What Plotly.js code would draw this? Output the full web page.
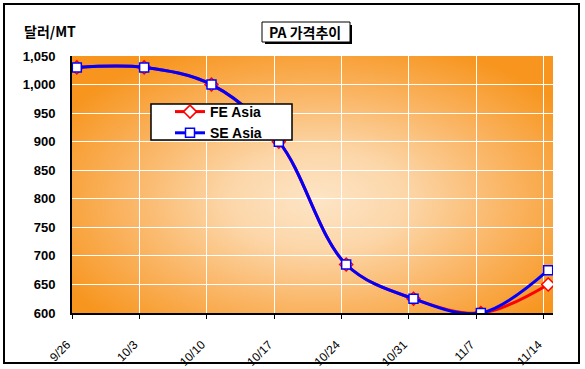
<!DOCTYPE html>
<html>
<head>
<meta charset="utf-8">
<script src="https://cdn.plot.ly/plotly-3.0.1.min.js"></script>
<style>
html,body{margin:0;padding:0;background:#fff;}
#chart{width:585px;height:369px;}
</style>
</head>
<body>
<div id="chart"></div>
<script>
// ---- data ----
const dates = ['2008-09-26','2008-10-03','2008-10-10','2008-10-17','2008-10-24','2008-10-31','2008-11-07','2008-11-14'];
const tickLabels = ['9/26','10/3','10/10','10/17','10/24','10/31','11/7','11/14'];
const feAsia = [1030, 1030, 1000, 900, 685, 625, 600, 650];
const seAsia = [1030, 1030, 1000, 900, 685, 625, 600, 675];
const yTicks = [600,650,700,750,800,850,900,950,1000,1050];
const yTickText = ['600','650','700','750','800','850','900','950','1,000','1,050'];

// ---- layout geometry ----
const W = 585, H = 369;
const M = {l:72, r:32, t:56, b:56};
const PW = W - M.l - M.r, PH = H - M.t - M.b;
const pxX = x => (x - M.l) / PW;
const pxY = y => (H - M.b - y) / PH;

// points sit in the middle of each day slot
const xPts = dates.map(d => d + ' 12:00');

// radial gradient background for plot area
const cv = document.createElement('canvas');
cv.width = PW; cv.height = PH;
const ctx = cv.getContext('2d');
ctx.fillStyle = '#F7951E';
ctx.fillRect(0,0,PW,PH);
ctx.save();
ctx.translate(PW*0.51, PH*0.56);
ctx.scale(1, PH/PW*1.05);
const R = PW*0.62;
const g = ctx.createRadialGradient(0,0,0,0,0,R);
g.addColorStop(0, '#FDE5C6');
g.addColorStop(0.3, '#FCD6A8');
g.addColorStop(0.65, '#FAB462');
g.addColorStop(1, '#F7951E');
ctx.fillStyle = g;
ctx.fillRect(-PW*2, -PW*4, PW*4, PW*8);
ctx.restore();
const bg = cv.toDataURL('image/png');

const font = 'Liberation Sans, Arial, sans-serif';
const kfont = 'Noto Sans CJK KR, Liberation Sans, sans-serif';

const traces = [
  {x: xPts, y: feAsia, name: 'FE Asia', type: 'scatter', mode: 'lines+markers',
   line: {color: '#FF0000', width: 3, shape: 'spline', smoothing: 1},
   marker: {symbol: 'diamond', size: 10, color: '#FFFFFF', line: {color: '#FF0000', width: 1.5}}},
  {x: xPts, y: seAsia, name: 'SE Asia', type: 'scatter', mode: 'lines+markers',
   line: {color: '#0000FF', width: 3, shape: 'spline', smoothing: 1},
   marker: {symbol: 'square', size: 9, color: '#FFFFFF', line: {color: '#0000FF', width: 1.5}}}
];

const xRange = ['2008-09-26', '2008-11-15'];
const yRange = [600, 1050];

const layout = {
  width: W, height: H,
  margin: M,
  paper_bgcolor: '#FFFFFF',
  plot_bgcolor: 'rgba(0,0,0,0)',
  showlegend: true,
  legend: {
    x: pxX(170), y: pxY(96), xanchor: 'left', yanchor: 'top',
    bgcolor: 'rgba(0,0,0,0)', borderwidth: 0,
    font: {family: font, size: 14, color: '#000', weight: 'bold'},
    tracegroupgap: 0, itemwidth: 30
  },
  xaxis: {
    type: 'date', range: xRange,
    tickvals: dates, ticktext: tickLabels, tickangle: -45,
    tickfont: {family: font, size: 12, color: '#000'},
    ticks: 'outside', ticklen: 4, tickcolor: '#000', tickwidth: 1,
    ticklabelstandoff: 14, ticklabelshift: -5,
    showgrid: true, gridcolor: '#FFFFFF', gridwidth: 1,
    showline: true, linecolor: '#000', linewidth: 2,
    zeroline: false, fixedrange: true
  },
  yaxis: {
    range: yRange, tickvals: yTicks, ticktext: yTickText,
    tickfont: {family: font, size: 13, color: '#000', weight: 'bold'},
    ticks: '', ticklabelstandoff: 12,
    showgrid: true, gridcolor: '#FFFFFF', gridwidth: 1,
    showline: true, linecolor: '#000', linewidth: 2,
    zeroline: false, fixedrange: true
  },
  xaxis2: {
    type: 'date', range: xRange, overlaying: 'x', side: 'top',
    tickvals: dates, showticklabels: false, ticks: '',
    showgrid: true, gridcolor: '#7F7F7F', gridwidth: 1, griddash: 'dash',
    showline: true, linecolor: '#808080', linewidth: 3,
    zeroline: false, fixedrange: true
  },
  yaxis2: {
    range: yRange, overlaying: 'y', side: 'right',
    tickvals: yTicks, showticklabels: false, ticks: '',
    showgrid: true, gridcolor: '#7F7F7F', gridwidth: 1, griddash: 'dash',
    showline: true, linecolor: '#808080', linewidth: 3,
    zeroline: false, fixedrange: true
  },
  images: [{
    source: bg, xref: 'paper', yref: 'paper', x: 0, y: 1, sizex: 1, sizey: 1,
    xanchor: 'left', yanchor: 'top', sizing: 'stretch', layer: 'below'
  }],
  shapes: [
    // outer frame
    {type: 'rect', xref: 'paper', yref: 'paper', x0: pxX(4), x1: pxX(579), y0: pxY(4), y1: pxY(363),
     line: {color: '#000', width: 2}, fillcolor: 'rgba(0,0,0,0)', layer: 'below'},
    // title box shadow
    {type: 'rect', xref: 'paper', yref: 'paper', x0: pxX(265), x1: pxX(352), y0: pxY(25), y1: pxY(44),
     line: {width: 0}, fillcolor: '#000', layer: 'above'},
    // title box
    {type: 'rect', xref: 'paper', yref: 'paper', x0: pxX(262), x1: pxX(350), y0: pxY(22), y1: pxY(42),
     line: {color: '#000', width: 1}, fillcolor: '#FFF', layer: 'above'},
    // legend box
    {type: 'rect', xref: 'paper', yref: 'paper', x0: pxX(151), x1: pxX(292), y0: pxY(104), y1: pxY(140),
     line: {color: '#000', width: 1.5}, fillcolor: '#FFF', layer: 'above'}
  ],
  annotations: [
    {text: 'PA 가격추이', xref: 'paper', yref: 'paper', x: pxX(305), y: pxY(32),
     xanchor: 'center', yanchor: 'middle', showarrow: false,
     font: {family: kfont, size: 14, color: '#000', weight: 'bold'}},
    {text: '달러/MT', xref: 'paper', yref: 'paper', x: pxX(50), y: pxY(31),
     xanchor: 'center', yanchor: 'middle', showarrow: false,
     font: {family: kfont, size: 14, color: '#000', weight: 'bold'}}
  ]
};

Plotly.newPlot('chart', traces, layout, {displayModeBar: false, staticPlot: true});
</script>
</body>
</html>
